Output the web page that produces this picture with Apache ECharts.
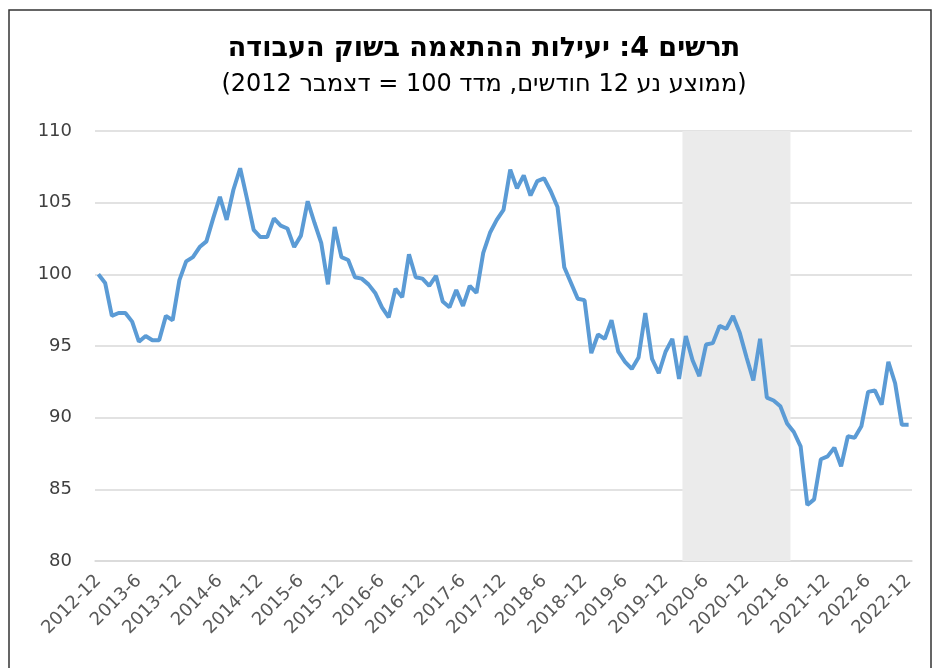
<!DOCTYPE html>
<html>
<head>
<meta charset="utf-8">
<script src="https://cdn.jsdelivr.net/npm/echarts@6/dist/echarts.min.js"></script>
<style>
  html, body { margin: 0; padding: 0; background: #fff; }
  #chart { width: 941px; height: 668px; }
</style>
</head>
<body>
<div id="chart"></div>
<script>
// monthly, 2012-12 .. 2022-12
var months = ['2012-12'];
for (var y = 2013; y <= 2022; y++) {
    for (var m = 1; m <= 12; m++) months.push(y + '-' + m);
}

var values = [
    100.0, 99.4, 97.1, 97.3, 97.3, 96.7, 95.3, 95.7, 95.4, 95.4, 97.1, 96.8,
    99.6, 100.9, 101.2, 101.9, 102.3, 103.9, 105.4, 103.8, 105.9, 107.4, 105.3, 103.1,
    102.6, 102.6, 103.9, 103.4, 103.2, 101.9, 102.7, 105.1, 103.6, 102.2, 99.3, 103.3,
    101.2, 101.0, 99.8, 99.7, 99.3, 98.7, 97.7, 97.0, 99.0, 98.4, 101.4, 99.8,
    99.7, 99.2, 99.9, 98.1, 97.7, 98.9, 97.8, 99.2, 98.7, 101.5, 102.9, 103.8,
    104.5, 107.3, 106.0, 106.9, 105.5, 106.5, 106.7, 105.8, 104.7, 100.5, 99.4, 98.3,
    98.2, 94.5, 95.8, 95.5, 96.8, 94.6, 93.9, 93.4, 94.2, 97.3, 94.1, 93.1,
    94.6, 95.5, 92.7, 95.7, 94.0, 92.9, 95.1, 95.2, 96.4, 96.2, 97.1, 95.9,
    94.2, 92.6, 95.5, 91.4, 91.2, 90.8, 89.6, 89.0, 88.0, 83.9, 84.3, 87.1,
    87.3, 87.9, 86.6, 88.7, 88.6, 89.4, 91.8, 91.9, 90.9, 93.9, 92.4, 89.5,
    89.5
];

// shaded period (whole months)
var shadeFrom = '2020-3';
var shadeTo = '2021-6';

var titleText = 'תרשים 4: יעילות ההתאמה בשוק העבודה';
var subText = '(ממוצע נע 12 חודשים, מדד 100 = דצמבר 2012)';

var font = 'DejaVu Sans';

var option = {
    animation: false,
    textStyle: { fontFamily: font },
    title: [{
        text: titleText,
        left: 479,
        textAlign: 'center',
        top: 30,
        textStyle: { fontSize: 27, fontWeight: 'bold', color: '#000', fontFamily: font }
    }, {
        text: subText,
        left: 479,
        textAlign: 'center',
        top: 68,
        textStyle: { fontSize: 24, fontWeight: 'normal', color: '#000', fontFamily: font }
    }],
    graphic: [{
        type: 'rect',
        shape: { x: 9, y: 10, width: 922, height: 680 },
        style: { fill: 'none', stroke: '#333', lineWidth: 1.5 },
        silent: true
    }],
    grid: {
        left: 95,
        right: 29,
        top: 131,
        bottom: 107
    },
    xAxis: [{
        type: 'category',
        data: months,
        boundaryGap: true,
        axisLine: { lineStyle: { color: '#d9d9d9', width: 1.5 } },
        axisTick: { show: false },
        axisLabel: {
            interval: 5,
            rotate: 45,
            fontSize: 18,
            color: '#595959',
            margin: 17
        }
    }, {
        // helper axis so the shading covers full month bands
        type: 'value',
        min: -0.5,
        max: months.length - 0.5,
        show: false
    }],
    yAxis: {
        type: 'value',
        min: 80,
        max: 110,
        interval: 5,
        axisLine: { show: false },
        axisTick: { show: false },
        axisLabel: { fontSize: 18, color: '#404040', margin: 23 },
        splitLine: { lineStyle: { color: '#d9d9d9', width: 1.5 } }
    },
    series: [{
        type: 'line',
        xAxisIndex: 1,
        data: [],
        silent: true,
        markArea: {
            silent: true,
            itemStyle: { color: '#ebebeb' },
            data: [[
                { xAxis: months.indexOf(shadeFrom) - 0.5 },
                { xAxis: months.indexOf(shadeTo) + 0.5 }
            ]]
        },
        z: 1
    }, {
        type: 'line',
        data: values,
        symbol: 'none',
        smooth: false,
        lineStyle: { color: '#5b9bd5', width: 4 },
        z: 3
    }]
};

var myChart = echarts.init(document.getElementById('chart'));
myChart.setOption(option);
</script>
</body>
</html>
